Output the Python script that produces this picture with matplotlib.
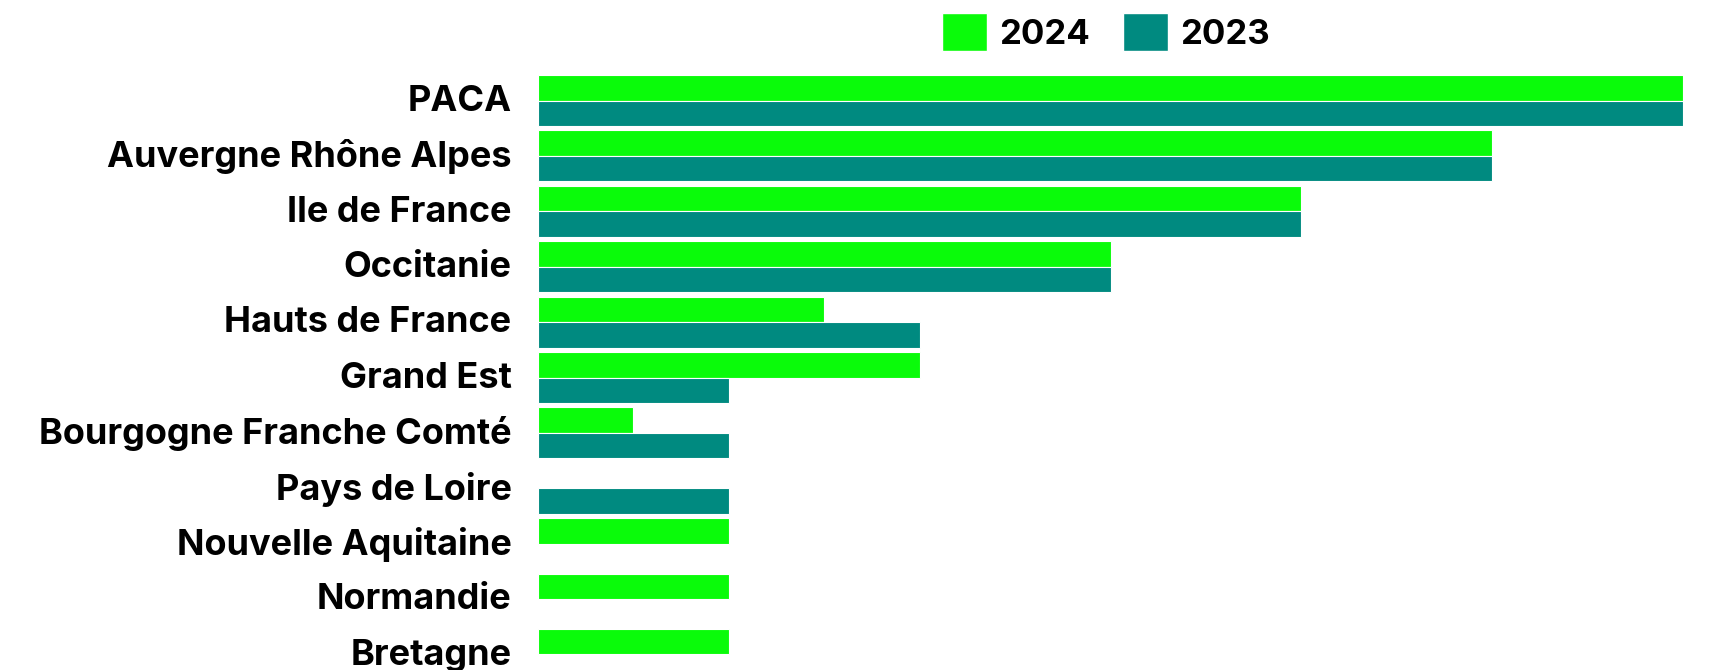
import matplotlib
matplotlib.use("Agg")
import matplotlib.pyplot as plt
import matplotlib.transforms as mtransforms
import numpy as np
from matplotlib.patches import Patch

regions = [
    "PACA",
    "Auvergne Rhône Alpes",
    "Ile de France",
    "Occitanie",
    "Hauts de France",
    "Grand Est",
    "Bourgogne Franche Comté",
    "Pays de Loire",
    "Nouvelle Aquitaine",
    "Normandie",
    "Bretagne",
]
values_2024 = [6, 5, 4, 3, 1.5, 2, 0.5, 0, 1, 1, 1]
values_2023 = [6, 5, 4, 3, 2, 1, 1, 1, 0, 0, 0]

green = "#0afb0a"
teal = "#008a80"

plt.rcParams["font.family"] = ["Inter", "DejaVu Sans"]

fig = plt.figure(figsize=(17.1, 6.7), dpi=100)
ax = fig.add_axes([538 / 1710, 0, (1683 - 538) / 1710, 1])

y = np.arange(len(regions))
h = 0.46
ax.barh(y - h / 2, values_2024, height=h, color=green, edgecolor="white", linewidth=0.8)
ax.barh(y + h / 2, values_2023, height=h, color=teal, edgecolor="white", linewidth=0.8)

ax.set_xlim(0, 6)
ax.set_ylim(10.28, -1.815)
ax.set_yticks(y)
ax.set_yticklabels(regions, fontsize=26, fontweight="bold")
ax.tick_params(axis="y", length=0, pad=19)
ax.set_xticks([])
for s in ax.spines.values():
    s.set_visible(False)

# nudge labels up a little
shift = mtransforms.ScaledTranslation(0, 2 / 72, fig.dpi_scale_trans)
for lbl in ax.get_yticklabels():
    lbl.set_transform(lbl.get_transform() + shift)

handles = [Patch(facecolor=green, edgecolor="white"), Patch(facecolor=teal, edgecolor="white")]
fig.legend(handles, ["2024", "2023"], loc="center", bbox_to_anchor=(1106 / 1710, 1 - 32 / 670),
           ncol=2, frameon=False, prop={"size": 25, "weight": "bold"},
           handlelength=1.3, handleheight=1.3, handletextpad=0.35, columnspacing=0.95)

fig.savefig("out.png", dpi=100)
